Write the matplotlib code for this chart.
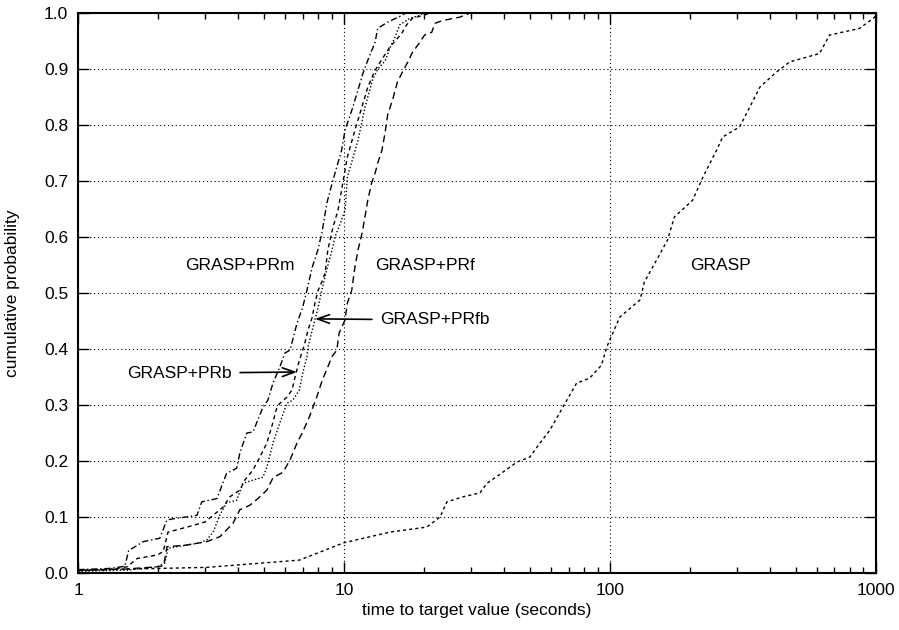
import numpy as np
import matplotlib
matplotlib.use("Agg")
import matplotlib.pyplot as plt
from matplotlib.ticker import LogLocator, FixedLocator, NullFormatter

plt.rcParams['font.family'] = ['Liberation Sans', 'DejaVu Sans']

# time-to-target data (seconds, cumulative probability)
prm_t = [1.0, 1.3, 1.5, 1.55, 1.76, 2.03, 2.16, 2.8, 2.92, 3.33, 3.62, 3.95, 4.06, 4.31,
         4.55, 4.96, 5.18, 5.41, 5.74, 6.0, 6.27, 6.66, 7.0, 7.26, 7.6, 7.98, 8.26, 8.63,
         9.1, 9.8, 10.1, 10.8, 11.2, 11.8, 12.3, 13.1, 13.4, 14.6, 16.5, 17.0]
prm_p = [0.006, 0.008, 0.012, 0.040, 0.056, 0.062, 0.095, 0.103, 0.127, 0.133, 0.178, 0.187,
         0.214, 0.250, 0.252, 0.296, 0.309, 0.339, 0.368, 0.393, 0.398, 0.446, 0.475, 0.505,
         0.546, 0.577, 0.607, 0.661, 0.702, 0.755, 0.791, 0.832, 0.857, 0.893, 0.916, 0.948,
         0.973, 0.984, 0.996, 1.0]

prb_t = [1.0, 1.3, 1.53, 1.67, 1.98, 2.09, 2.18, 2.57, 3.0, 3.22, 3.52, 3.72, 4.06, 4.24,
         4.55, 4.83, 5.13, 5.35, 5.6, 5.74, 6.1, 6.38, 6.55, 6.8, 7.1, 7.33, 7.6, 7.78, 8.0,
         8.26, 8.5, 8.7, 9.1, 9.5, 9.9, 10.3, 11.0, 11.8, 12.3, 13.1, 14.0, 14.9, 15.9, 16.5,
         17.2, 18.1, 19.8, 21.0]
prb_p = [0.004, 0.006, 0.011, 0.026, 0.032, 0.038, 0.073, 0.082, 0.091, 0.103, 0.118, 0.136,
         0.148, 0.166, 0.184, 0.207, 0.232, 0.261, 0.296, 0.303, 0.314, 0.327, 0.350, 0.380,
         0.407, 0.434, 0.457, 0.482, 0.505, 0.520, 0.536, 0.577, 0.618, 0.648, 0.696, 0.743,
         0.791, 0.839, 0.868, 0.898, 0.920, 0.940, 0.955, 0.964, 0.979, 0.991, 0.996, 1.0]

prfb_t = [1.0, 1.53, 1.98, 2.12, 2.18, 2.36, 2.88, 3.05, 3.22, 3.42, 3.62, 3.95, 4.17, 4.55,
          4.96, 5.13, 5.41, 5.74, 6.1, 6.43, 6.8, 7.0, 7.26, 7.33, 7.6, 7.8, 8.0, 8.26, 8.6,
          9.0, 9.25, 9.7, 10.1, 10.3, 11.3, 12.0, 12.8, 13.4, 14.3, 14.9, 15.5, 16.2, 17.7,
          19.3, 19.8]
prfb_p = [0.003, 0.005, 0.011, 0.018, 0.044, 0.047, 0.054, 0.059, 0.073, 0.104, 0.125, 0.130,
          0.160, 0.166, 0.171, 0.189, 0.232, 0.268, 0.303, 0.309, 0.327, 0.357, 0.386, 0.404,
          0.434, 0.454, 0.475, 0.505, 0.540, 0.575, 0.600, 0.625, 0.648, 0.707, 0.773, 0.832,
          0.880, 0.900, 0.915, 0.938, 0.955, 0.979, 0.991, 0.996, 1.0]

prf_t = [1.0, 1.5, 1.98, 2.1, 2.16, 2.57, 3.05, 3.42, 3.62, 3.83, 4.06, 4.43, 4.83, 5.13,
         5.41, 5.9, 6.27, 6.66, 7.0, 7.43, 7.9, 8.3, 8.7, 9.0, 9.4, 9.6, 10.1, 10.3, 10.7,
         11.0, 11.3, 11.7, 12.0, 12.3, 12.7, 13.1, 13.4, 13.9, 14.3, 14.6, 15.3, 15.9, 16.6,
         17.4, 18.1, 19.3, 20.1, 21.4, 22.0, 23.5, 27.3, 29.7]
prf_p = [0.005, 0.007, 0.011, 0.013, 0.047, 0.050, 0.056, 0.065, 0.077, 0.089, 0.113, 0.121,
         0.136, 0.148, 0.170, 0.180, 0.202, 0.232, 0.252, 0.280, 0.314, 0.345, 0.368, 0.386,
         0.398, 0.429, 0.452, 0.482, 0.505, 0.546, 0.577, 0.607, 0.636, 0.666, 0.696, 0.714,
         0.732, 0.755, 0.788, 0.818, 0.848, 0.877, 0.895, 0.913, 0.930, 0.948, 0.961, 0.966,
         0.982, 0.987, 0.993, 1.0]

grasp_t = [1.0, 3.05, 6.8, 10.0, 14.9, 20.5, 23, 24.4, 28, 32.5, 34.5, 39.6, 44.7, 50, 54.6,
           59.5, 66.6, 75, 84, 93, 97.5, 100, 109, 130, 135, 150, 165, 175, 205, 224, 252,
           266, 308, 327, 367, 424, 475, 615, 671, 871, 980, 1000]
grasp_p = [0.005, 0.010, 0.023, 0.054, 0.073, 0.082, 0.100, 0.127, 0.136, 0.143, 0.160, 0.180,
           0.198, 0.207, 0.232, 0.255, 0.296, 0.339, 0.348, 0.371, 0.404, 0.416, 0.457, 0.488,
           0.520, 0.559, 0.595, 0.636, 0.666, 0.707, 0.755, 0.779, 0.797, 0.821, 0.868, 0.895,
           0.913, 0.928, 0.961, 0.973, 0.991, 0.995]

fig = plt.figure(figsize=(8.99, 6.30), dpi=100)
ax = fig.add_axes([0.0868, 0.0905, 0.8872, 0.8885])

lw = 1.0
ax.plot(prm_t, prm_p, color='black', lw=lw, dashes=(4.5, 2, 1, 2))
ax.plot(prb_t, prb_p, color='black', lw=lw, dashes=(3, 2.5))
ax.plot(prfb_t, prfb_p, color='black', lw=lw, dashes=(1, 1.5))
ax.plot(prf_t, prf_p, color='black', lw=lw, dashes=(5, 3))
ax.plot(grasp_t, grasp_p, color='black', lw=lw, dashes=(2.2, 2.2))

ax.set_xscale('log')
ax.set_xlim(1, 1000)
ax.set_ylim(0, 1)

ax.xaxis.set_major_locator(FixedLocator([1, 10, 100, 1000]))
ax.set_xticklabels(['1', '10', '100', '1000'])
ax.xaxis.set_minor_locator(LogLocator(base=10, subs=np.arange(2, 10)))
ax.xaxis.set_minor_formatter(NullFormatter())
ax.set_yticks(np.arange(0, 1.01, 0.1))
ax.set_yticklabels(['%.1f' % v for v in np.arange(0, 1.01, 0.1)])

ax.tick_params(which='both', direction='in', top=True, right=True, labelsize=12.5, pad=7)
ax.tick_params(which='major', length=8, width=1)
ax.tick_params(which='minor', length=4, width=1)

for s in ax.spines.values():
    s.set_linewidth(1.5)

ax.grid(True, which='major', color='black', lw=0.8, linestyle=(0, (1, 2.5)))

ax.set_xlabel('time to target value (seconds)', fontsize=12.5, labelpad=4)
ax.set_ylabel('cumulative probability', fontsize=12.5, labelpad=17)

ax.text(2.53, 0.55, 'GRASP+PRm', fontsize=12.5, va='center', ha='left')
ax.text(13.1, 0.55, 'GRASP+PRf', fontsize=12.5, va='center', ha='left')
ax.text(200, 0.55, 'GRASP', fontsize=12.5, va='center', ha='left')

ax.annotate('GRASP+PRfb', xy=(7.78, 0.454), xytext=(13.7, 0.452), fontsize=12.5,
            va='center', ha='left',
            arrowprops=dict(arrowstyle='->,head_length=0.7,head_width=0.25', lw=1.2,
                            color='black', shrinkA=4, shrinkB=0))
ax.annotate('GRASP+PRb', xy=(6.66, 0.359), xytext=(1.53, 0.357), fontsize=12.5,
            va='center', ha='left',
            arrowprops=dict(arrowstyle='->,head_length=0.7,head_width=0.25', lw=1.2,
                            color='black', shrinkA=4, shrinkB=0))

fig.savefig('out.png', dpi=100)
